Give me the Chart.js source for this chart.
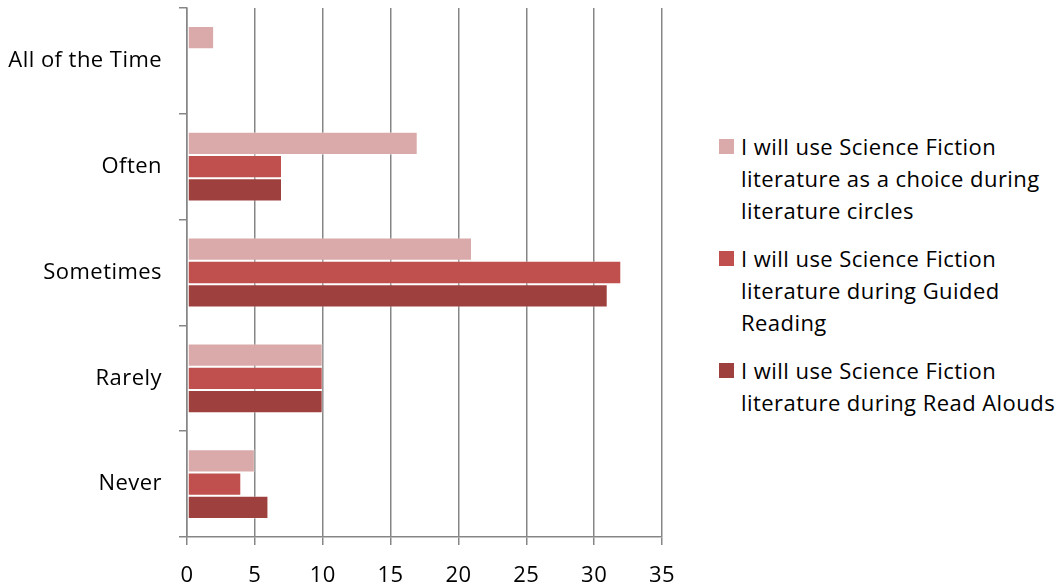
<!DOCTYPE html>
<html>
<head>
<meta charset="utf-8">
<script src="https://cdn.jsdelivr.net/npm/chart.js@4"></script>
<style>
  html, body { margin: 0; padding: 0; background: #fff; }
  #wrap { position: relative; width: 1063px; height: 585px; }
  #box { position: absolute; left: 0; top: 0; width: 690px; height: 585px; }
  #legend { position: absolute; left: 719px; top: 130px; font-family: 'Open Sans', sans-serif; font-size: 22px; letter-spacing: 0.45px; color: #000; }
  .item { position: relative; padding-left: 22px; line-height: 32px; margin-bottom: 16px; }
  .sw { position: absolute; left: 0; top: 9px; width: 15px; height: 15px; }
</style>
</head>
<body>
<div id="wrap">
  <div id="box"><canvas id="chart"></canvas></div>
  <div id="legend"></div>
</div>
<script>
// ── Data ────────────────────────────────────────────────
const categories = ['All of the Time', 'Often', 'Sometimes', 'Rarely', 'Never'];
const litCircles = [2, 17, 21, 10, 5];
const guidedReading = [0, 7, 32, 10, 4];
const readAlouds = [0, 7, 31, 10, 6];
const xTicks = [0, 5, 10, 15, 20, 25, 30, 35];

const seriesNames = [
  ['I will use Science Fiction', 'literature as a choice during', 'literature circles'],
  ['I will use Science Fiction', 'literature during Guided', 'Reading'],
  ['I will use Science Fiction', 'literature during Read Alouds'],
];
const colors = ['#DAAAAA', '#C0504D', '#9E413E'];

// ── Legend (HTML, wrapped like the original) ─────────────
const legend = document.getElementById('legend');
seriesNames.forEach((lines, i) => {
  const div = document.createElement('div');
  div.className = 'item';
  div.innerHTML = '<span class="sw" style="background:' + colors[i] + '"></span>' + lines.join('<br>');
  legend.appendChild(div);
});

// ── Chart ────────────────────────────────────────────────
const axisGray = '#868686';
const font = { family: '"Open Sans", sans-serif', size: 22 };

// slightly wider text, closer to the Calibri look of the original
const spacing = {
  id: 'spacing',
  beforeDraw: chart => { chart.ctx.letterSpacing = '0.45px'; },
};

new Chart(document.getElementById('chart'), {
  type: 'bar',
  data: {
    labels: categories,
    datasets: [litCircles, guidedReading, readAlouds].map((d, i) => ({
      label: seriesNames[i].join(' '),
      data: d,
      backgroundColor: colors[i],
      borderColor: 'rgba(255,255,255,0.35)',
      borderWidth: 1,
      borderSkipped: false,
      categoryPercentage: 0.66,
      barPercentage: 1,
    })),
  },
  options: {
    indexAxis: 'y',
    responsive: true,
    maintainAspectRatio: false,
    animation: false,
    layout: { padding: { top: 8, right: 28, left: 0, bottom: 0 } },
    plugins: { legend: { display: false }, tooltip: { enabled: false } },
    scales: {
      x: {
        min: 0,
        max: 35,
        afterBuildTicks: s => { s.ticks = xTicks.map(v => ({ value: v })); },
        afterFit: s => { s.height = 48; s.paddingLeft = 0; s.paddingRight = 0; },
        grid: { color: axisGray, lineWidth: 1.5, tickLength: 8, drawTicks: true },
        border: { display: true, color: axisGray, width: 1.5 },
        ticks: { font, color: '#000', padding: 18 },
      },
      y: {
        afterFit: s => { s.width = 187; s.paddingTop = 0; s.paddingBottom = 0; },
        grid: { color: axisGray, lineWidth: 1.5, drawOnChartArea: false, tickLength: 8, offset: true },
        border: { display: true, color: axisGray, width: 1.5 },
        ticks: { font, color: '#000', padding: 17 },
      },
    },
  },
  plugins: [spacing],
});
</script>
</body>
</html>
